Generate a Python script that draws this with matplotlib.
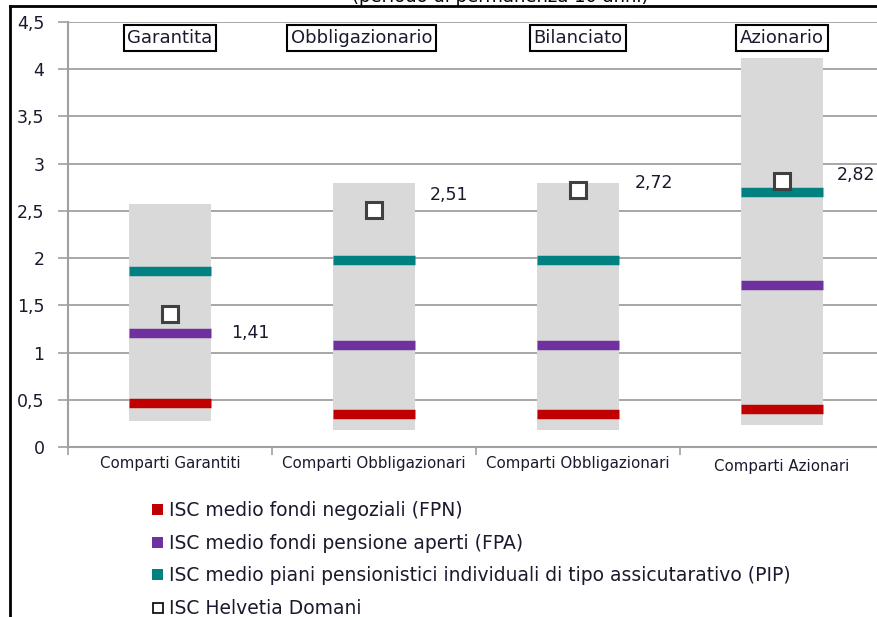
import matplotlib
matplotlib.use("Agg")
import matplotlib.pyplot as plt
from matplotlib.patches import Patch
from matplotlib.lines import Line2D

# ---- data ----
categories = ["Comparti Garantiti", "Comparti Obbligazionari", "Comparti Obbligazionari", "Comparti Azionari"]
headers = ["Garantita", "Obbligazionario", "Bilanciato", "Azionario"]
range_min = [0.28, 0.18, 0.18, 0.23]
range_max = [2.57, 2.80, 2.80, 4.12]
fpn = [0.47, 0.35, 0.35, 0.40]
fpa = [1.21, 1.08, 1.08, 1.72]
pip = [1.86, 1.98, 1.98, 2.70]
helvetia = [1.41, 2.51, 2.72, 2.82]
helvetia_labels = ["1,41", "2,51", "2,72", "2,82"]
yticks = [0, 0.5, 1, 1.5, 2, 2.5, 3, 3.5, 4, 4.5]
ytick_labels = ["0", "0,5", "1", "1,5", "2", "2,5", "3", "3,5", "4", "4,5"]
legend_labels = [
    "ISC medio fondi negoziali (FPN)",
    "ISC medio fondi pensione aperti (FPA)",
    "ISC medio piani pensionistici individuali di tipo assicutarativo (PIP)",
    "ISC Helvetia Domani",
]
title = "(periodo di permanenza 10 anni)"

# ---- styles ----
W, H = 878, 617
c_red = "#c00000"
c_purple = "#7030a0"
c_teal = "#008080"
c_gray = "#d9d9d9"
c_grid = "#a0a0a0"
c_text = "#1a1a2e"

fig = plt.figure(figsize=(W / 100, H / 100), dpi=100)
ax = fig.add_axes([68 / W, (H - 447) / H, 816 / W, 425 / H])

x = list(range(len(categories)))
bw = 0.40
ax.bar(x, [b - a for a, b in zip(range_min, range_max)], bottom=range_min,
       width=bw, color=c_gray, zorder=2)

for vals, col in [(fpn, c_red), (fpa, c_purple), (pip, c_teal)]:
    ax.hlines(vals, [i - bw / 2 for i in x], [i + bw / 2 for i in x],
              colors=col, linewidth=6.8, zorder=3, capstyle="butt")

ax.plot(x, helvetia, linestyle="none", marker="s", markersize=11,
        markerfacecolor="white", markeredgecolor="#404040",
        markeredgewidth=2.2, zorder=4)

label_offsets = [(58, -14), (54, 11), (55, 5), (53, 4)]
for i, (v, lab) in enumerate(zip(helvetia, helvetia_labels)):
    ax.annotate(lab, (i, v), xytext=label_offsets[i], textcoords="offset points",
                ha="center", va="center", fontsize=12.5, color=c_text, zorder=5)

header_shift = [0, -0.06, 0, 0]
for i, h in enumerate(headers):
    ax.text(i + header_shift[i], 4.33, h, ha="center", va="center",
            fontsize=13, color=c_text, zorder=5,
            bbox=dict(boxstyle="square,pad=0.2", facecolor="white",
                      edgecolor="black", linewidth=1.5))

ax.set_xlim(-0.5, len(categories) - 0.5)
ax.set_ylim(0, 4.5)
ax.set_yticks(yticks)
ax.set_yticklabels(ytick_labels, fontsize=12.5, color=c_text)
ax.set_xticks([i - 0.5 for i in range(len(categories) + 1)])
ax.set_xticklabels([])
ax.tick_params(axis="y", direction="out", length=7, width=1.2, color=c_grid, pad=10)
ax.tick_params(axis="x", direction="out", length=6, width=1.2, color=c_grid)
for i, c in enumerate(categories):
    ax.text(i, -0.1 if i < 3 else -0.13, c, ha="center", va="top",
            fontsize=10.8, color=c_text, transform=ax.transData)

ax.yaxis.grid(True, color=c_grid, linewidth=1.3, zorder=0)
ax.set_axisbelow(True)
for s in ["top", "right"]:
    ax.spines[s].set_visible(False)
ax.spines["left"].set_color(c_grid)
ax.spines["left"].set_linewidth(1.5)
ax.spines["bottom"].set_color(c_grid)
ax.spines["bottom"].set_linewidth(1.5)

handles = [
    Patch(facecolor=c_red, edgecolor="none"),
    Patch(facecolor=c_purple, edgecolor="none"),
    Patch(facecolor=c_teal, edgecolor="none"),
    Line2D([], [], linestyle="none", marker="s", markersize=7,
           markerfacecolor="white", markeredgecolor="black", markeredgewidth=1.2),
]
fig.legend(handles, legend_labels, loc="upper left",
           bbox_to_anchor=(143 / W, 1 - 492 / H), frameon=False,
           fontsize=13.5, handlelength=0.55, handleheight=0.55,
           handletextpad=0.35, labelspacing=0.72, borderpad=0, labelcolor=c_text)

# frame lines and clipped title
fig.add_artist(Line2D([10 / W, 10 / W], [0, 1 - 6 / H], color="black",
                      linewidth=2, transform=fig.transFigure))
fig.add_artist(Line2D([10 / W, 1], [1 - 6 / H, 1 - 6 / H], color="black",
                      linewidth=2, transform=fig.transFigure))
fig.text(500 / W, 1 + 3 / H, title, ha="center", va="center",
         fontsize=13, color="black")

fig.savefig("out.png", dpi=100)
